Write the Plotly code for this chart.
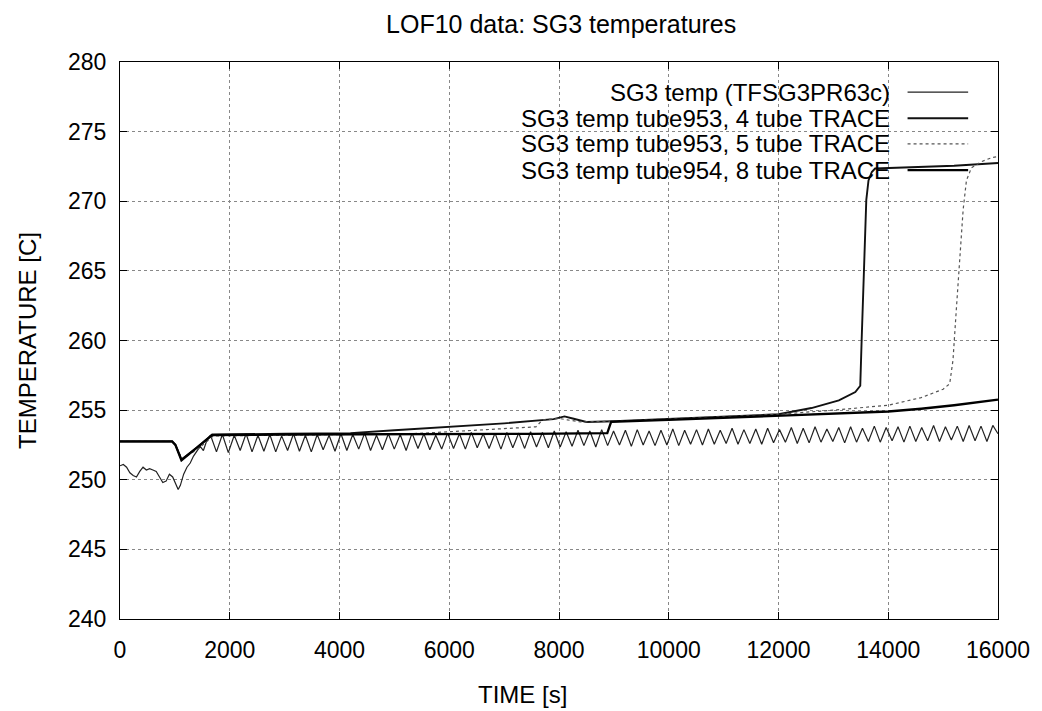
import plotly.graph_objects as go

# ---- data ----
series_names = [
    "SG3 temp (TFSG3PR63c)",
    "SG3 temp tube953, 4 tube TRACE",
    "SG3 temp tube953, 5 tube TRACE",
    "SG3 temp tube954, 8 tube TRACE",
]

# measured temperature: start-up transient, then oscillation (peak/trough every 108 s)
meas_t_start = [0, 60, 120, 180, 240, 300, 360, 420, 480, 540, 600, 660, 720, 780,
                840, 900, 960, 1020, 1060, 1100, 1160, 1220, 1280, 1340, 1400, 1460,
                1520, 1580]
meas_T_start = [251.0, 251.1, 250.9, 250.5, 250.3, 250.2, 250.6, 250.9, 250.7, 250.8,
                250.7, 250.6, 250.2, 249.8, 249.9, 250.4, 250.2, 249.6, 249.3, 249.6,
                250.4, 250.9, 251.2, 251.7, 252.1, 252.4, 252.1, 252.8]
meas_t_osc = list(range(1650, 16000, 108)) + [16000]
meas_T_osc = [
    253.2, 252.0, 253.25, 251.95, 253.2, 252.1, 253.3, 252.0, 253.2, 252.05,
    253.25, 252.0, 253.15, 252.1, 253.3, 252.05, 253.2, 252.0, 253.25, 252.15,
    253.2, 252.05, 253.3, 252.1, 253.25, 252.2, 253.35, 252.1, 253.2, 252.15,
    253.3, 252.2, 253.25, 252.1, 253.35, 252.25, 253.3, 252.15, 253.2, 252.2,
    253.35, 252.25, 253.3, 252.2, 253.4, 252.3, 253.3, 252.25, 253.35, 252.2,
    253.4, 252.3, 253.35, 252.25, 253.45, 252.35, 253.4, 252.3, 253.5, 252.35,
    253.45, 252.4, 253.55, 252.45, 253.5, 252.35, 253.6, 252.45, 253.5, 252.5,
    253.55, 252.4, 253.6, 252.5, 253.5, 252.45, 253.55, 252.5, 253.65, 252.45,
    253.55, 252.55, 253.6, 252.5, 253.65, 252.55, 253.55, 252.6, 253.7, 252.55,
    253.6, 252.6, 253.65, 252.55, 253.7, 252.65, 253.6, 252.7, 253.75, 252.6,
    253.7, 252.65, 253.8, 252.7, 253.65, 252.75, 253.75, 252.65, 253.8, 252.7,
    253.7, 252.75, 253.85, 252.7, 253.75, 252.8, 253.8, 252.7, 253.85, 252.75,
    253.75, 252.8, 253.9, 252.75, 253.8, 252.85, 253.85, 252.75, 253.9, 252.8,
    253.85, 252.75, 253.9, 253.3,
]
meas_t = meas_t_start + meas_t_osc
meas_T = meas_T_start + meas_T_osc

tube4_t = [0, 950, 1010, 1120, 1400, 1680, 3000, 4200, 5000, 6000, 7000, 7900, 8100,
           8250, 8500, 9000, 10000, 11000, 12000, 12600, 13100, 13400, 13490, 13515,
           13565, 13600, 13640, 13700, 13760, 14500, 15200, 16000]
tube4_T = [252.75, 252.75, 252.5, 251.45, 252.3, 253.25, 253.3, 253.35, 253.55, 253.8,
           254.05, 254.35, 254.55, 254.4, 254.15, 254.2, 254.35, 254.5, 254.7, 255.15,
           255.7, 256.3, 256.75, 260.0, 265.8, 270.1, 271.5, 272.1, 272.35, 272.45,
           272.55, 272.75]

tube5_t = [0, 950, 1010, 1130, 1420, 1700, 3000, 4500, 5300, 6000, 7000, 7580, 7700,
           8000, 8150, 8400, 9000, 10000, 11000, 12000, 13000, 14000, 14600, 15000,
           15120, 15180, 15240, 15300, 15365, 15425, 15515, 15700, 15900, 16000]
tube5_T = [252.75, 252.75, 252.5, 251.5, 252.2, 253.15, 253.2, 253.25, 253.3, 253.45,
           253.65, 253.8, 254.3, 254.4, 254.3, 254.15, 254.2, 254.35, 254.5, 254.7,
           255.0, 255.35, 255.9, 256.5, 256.9, 258.6, 262.2, 265.8, 269.4, 271.5,
           272.4, 272.85, 273.15, 273.2]

tube8_t = [0, 950, 1010, 1120, 1400, 1680, 3000, 4500, 6000, 7500, 8880, 8950, 10000,
           11000, 12000, 13000, 14000, 14600, 15200, 16000]
tube8_T = [252.75, 252.75, 252.5, 251.4, 252.3, 253.2, 253.25, 253.25, 253.25, 253.3,
           253.35, 254.15, 254.3, 254.45, 254.62, 254.75, 254.9, 255.1, 255.35, 255.75]

x_ticks = [0, 2000, 4000, 6000, 8000, 10000, 12000, 14000, 16000]
x_labels = [str(v) for v in x_ticks]
y_ticks = [240, 245, 250, 255, 260, 265, 270, 275, 280]

FONT = "Liberation Sans, Arial, sans-serif"
styles = [
    dict(color="#222222", width=1.2),
    dict(color="#111111", width=1.9),
    dict(color="#555555", width=1.2, dash="dot"),
    dict(color="#000000", width=2.3),
]

fig = go.Figure()
for (t, T), name, st in zip([(meas_t, meas_T), (tube4_t, tube4_T),
                             (tube5_t, tube5_T), (tube8_t, tube8_T)],
                            series_names, styles):
    fig.add_trace(go.Scatter(x=t, y=T, mode="lines", name=name, line=st,
                             showlegend=False))

# gnuplot-style key: right-aligned text with the line sample on its right
row_y = [0.946, 0.899, 0.853, 0.806]
for name, st, yy in zip(series_names, styles, row_y):
    fig.add_annotation(x=0.879, y=yy, xref="paper", yref="paper", text=name,
                       showarrow=False, xanchor="right", yanchor="middle",
                       font=dict(size=24, color="black", family=FONT))
    fig.add_shape(type="line", xref="paper", yref="paper", x0=0.897, x1=0.966,
                  y0=yy, y1=yy, line=st)

# x label sits a little left of centre in the original
fig.add_annotation(x=0.458, y=-0.135, xref="paper", yref="paper", text="TIME [s]",
                   showarrow=False, xanchor="center", yanchor="middle",
                   font=dict(size=24, color="black", family=FONT))

axis_common = dict(
    showgrid=True, gridcolor="#888888", griddash="dot", gridwidth=1,
    showline=True, linecolor="black", linewidth=1.3, mirror="allticks",
    ticks="inside", ticklen=7, tickcolor="black", zeroline=False,
    tickfont=dict(size=23, color="black", family=FONT),
)

# page body adds an 8px margin, so the figure is 8px smaller than the window
fig.update_layout(
    width=1034, height=703,
    paper_bgcolor="white", plot_bgcolor="white",
    margin=dict(l=112, r=42, t=54, b=92),
    title=dict(text="LOF10 data: SG3 temperatures", x=0.535, xanchor="center",
               y=0.977, yanchor="middle",
               font=dict(size=25, color="black", family=FONT)),
    xaxis=dict(range=[0, 16000], tickvals=x_ticks, ticktext=x_labels,
               ticklabelstandoff=10, **axis_common),
    yaxis=dict(range=[240, 280], tickvals=y_ticks, ticklabelstandoff=8,
               title=dict(text="TEMPERATURE [C]",
                          font=dict(size=24, color="black", family=FONT), standoff=24),
               **axis_common),
)

fig.write_html("out.html")
